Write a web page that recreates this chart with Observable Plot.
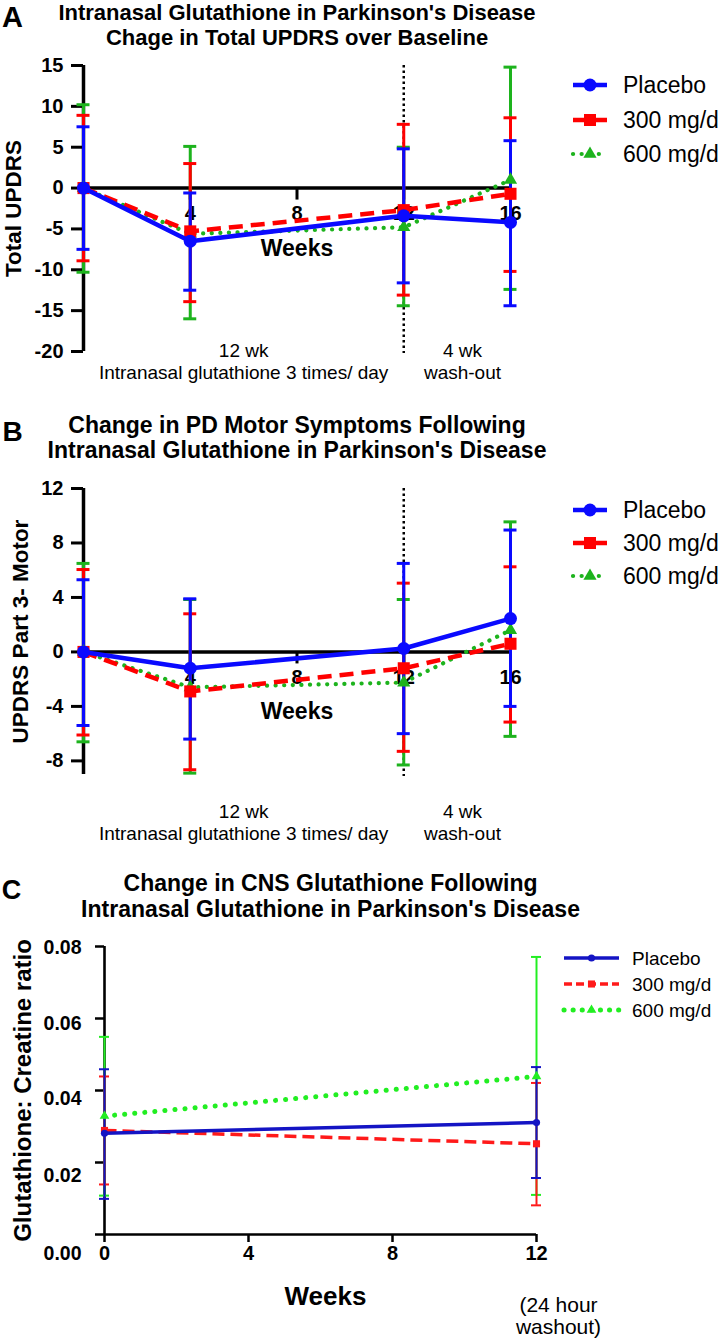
<!DOCTYPE html>
<html>
<head>
<meta charset="utf-8">
<script src="https://cdn.jsdelivr.net/npm/d3@7"></script>
<script src="https://cdn.jsdelivr.net/npm/@observablehq/plot@0.6"></script>
<style>
  html, body { margin: 0; padding: 0; background: #fff; }
  #page { position: relative; width: 718px; height: 1340px; overflow: hidden; background: #fff; }
  #page svg { position: absolute; left: 0; }
</style>
</head>
<body>
<div id="page"></div>
<script>
// ---------------- DATA ----------------
const groups = ["Placebo", "300 mg/d", "600 mg/d"];

// Panel A: change in total UPDRS (mean, upper and lower error-bar ends)
const weeksAB = [0, 4, 12, 16];
const placeboA    = [0, -6.5, -3.4, -4.2];
const placeboA_hi = [7.5, -0.6, 4.8, 5.8];
const placeboA_lo = [-7.5, -12.5, -11.6, -14.4];
const mg300A      = [0, -5.3, -2.7, -0.7];
const mg300A_hi   = [8.9, 3.0, 7.8, 8.6];
const mg300A_lo   = [-8.9, -13.9, -13.1, -10.2];
const mg600A      = [0, -5.6, -4.8, 1.0];
const mg600A_hi   = [10.2, 5.1, 5.0, 14.8];
const mg600A_lo   = [-10.3, -16.0, -14.4, -12.4];
const yTicksA = [15, 10, 5, 0, -5, -10, -15, -20];
const xTicksAB = [4, 8, 12, 16];

// Panel B: UPDRS part 3 motor
const placeboB    = [0, -1.2, 0.25, 2.45];
const placeboB_hi = [5.3, 3.9, 6.5, 8.95];
const placeboB_lo = [-5.4, -6.4, -6.0, -4.0];
const mg300B      = [0, -2.9, -1.2, 0.6];
const mg300B_hi   = [6.05, 2.8, 5.05, 6.25];
const mg300B_lo   = [-6.1, -8.65, -7.3, -5.15];
const mg600B      = [0, -2.6, -2.25, 1.6];
const mg600B_hi   = [6.5, 3.85, 3.85, 9.55];
const mg600B_lo   = [-6.6, -8.9, -8.3, -6.2];
const yTicksB = [12, 8, 4, 0, -4, -8];

// Panel C: glutathione : creatine ratio
const weeksC = [0, 12];
const placeboC    = [0.0281, 0.0311];
const placeboC_hi = [0.0459, 0.0465];
const placeboC_lo = [0.0099, 0.0157];
const mg300C      = [0.0289, 0.0252];
const mg300C_hi   = [0.0439, 0.0421];
const mg300C_lo   = [0.0139, 0.0081];
const mg600C      = [0.0329, 0.0439];
const mg600C_hi   = [0.0549, 0.0771];
const mg600C_lo   = [0.0108, 0.0110];
const yTicksC = [0, 0.02, 0.04, 0.06, 0.08];
const xTicksC = [0, 4, 8, 12];

// Text
const titleA = ["Intranasal Glutathione in Parkinson's Disease", "Chage in Total UPDRS over Baseline"];
const titleB = ["Change in PD Motor Symptoms Following", "Intranasal Glutathione in Parkinson's Disease"];
const titleC = ["Change in CNS Glutathione Following", "Intranasal Glutathione in Parkinson's Disease"];
const periods = [
  {x: 6, top: "12 wk", bottom: "Intranasal glutathione 3 times/ day"},
  {x: 14.2, top: "4 wk", bottom: "wash-out"}
];
const noteC = ["(24 hour", "washout)"];

// ---------------- STYLE ----------------
const FONT = "'Liberation Sans', Arial, Helvetica, sans-serif";
const styleAB = {
  "Placebo":  {color: "#0a0aff", dash: null, symbol: "circle", r: 6.5, width: 4.5, cap: "butt"},
  "300 mg/d": {color: "#ff0000", dash: "14,8", symbol: "square", r: 6.8, width: 4.5, cap: "butt"},
  "600 mg/d": {color: "#1db31d", dash: "0.1,8.5", symbol: "triangle", r: 4.9, width: 4.2, cap: "round"}
};
const styleC = {
  "Placebo":  {color: "#1414c4", dash: null, symbol: "circle", r: 3.6, width: 3.5, cap: "butt"},
  "300 mg/d": {color: "#ff1a1a", dash: "12,6", symbol: "square", r: 4, width: 3.5, cap: "butt"},
  "600 mg/d": {color: "#22ee22", dash: "0.1,10", symbol: "triangle", r: 3.6, width: 5, cap: "round"}
};

function rows(weeks, mean, hi, lo) {
  return weeks.map((w, i) => ({week: w, mean: mean[i], hi: hi[i], lo: lo[i]}));
}
const dataA = {
  "Placebo": rows(weeksAB, placeboA, placeboA_hi, placeboA_lo),
  "300 mg/d": rows(weeksAB, mg300A, mg300A_hi, mg300A_lo),
  "600 mg/d": rows(weeksAB, mg600A, mg600A_hi, mg600A_lo)
};
const dataB = {
  "Placebo": rows(weeksAB, placeboB, placeboB_hi, placeboB_lo),
  "300 mg/d": rows(weeksAB, mg300B, mg300B_hi, mg300B_lo),
  "600 mg/d": rows(weeksAB, mg600B, mg600B_hi, mg600B_lo)
};
const dataC = {
  "Placebo": rows(weeksC, placeboC, placeboC_hi, placeboC_lo),
  "300 mg/d": rows(weeksC, mg300C, mg300C_hi, mg300C_lo),
  "600 mg/d": rows(weeksC, mg600C, mg600C_hi, mg600C_lo)
};

function T(text, opts) {
  return Plot.text([text], {text: d => d, fill: "black", fontFamily: FONT,
    textAnchor: "middle", lineAnchor: "middle", ...opts});
}

function seriesMarks(data, styles, barW, capHalf) {
  const out = [];
  for (const g of ["600 mg/d", "300 mg/d", "Placebo"]) {
    const s = styles[g], d = data[g];
    out.push(Plot.ruleX(d, {x: "week", y1: "lo", y2: "hi", stroke: s.color, strokeWidth: barW}));
    out.push(Plot.ruleY(d, {y: "hi", x1: "week", x2: "week", insetLeft: -capHalf, insetRight: -capHalf, stroke: s.color, strokeWidth: barW}));
    out.push(Plot.ruleY(d, {y: "lo", x1: "week", x2: "week", insetLeft: -capHalf, insetRight: -capHalf, stroke: s.color, strokeWidth: barW}));
  }
  for (const g of ["600 mg/d", "300 mg/d", "Placebo"]) {
    const s = styles[g], d = data[g];
    out.push(Plot.line(d, {x: "week", y: "mean", stroke: s.color, strokeWidth: s.width,
      strokeDasharray: s.dash || undefined, strokeLinecap: s.cap}));
    out.push(Plot.dot(d, {x: "week", y: "mean", symbol: s.symbol, r: s.r, fill: s.color, stroke: "none"}));
  }
  return out;
}

// Panel A / B builder
function panelAB(cfg) {
  return Plot.plot({
    width: 718, height: cfg.height,
    marginTop: cfg.mt, marginBottom: cfg.mb, marginLeft: 83, marginRight: 208,
    x: {domain: [0, 16], axis: null},
    y: {domain: cfg.ydomain, axis: null},
    style: {background: "transparent", fontFamily: FONT, color: "black", overflow: "visible"},
    marks: [
      // period annotations
      Plot.text(periods, {x: "x", frameAnchor: "bottom", lineAnchor: "middle", dy: cfg.annDy, text: "top", fontSize: 19, fontFamily: FONT, fill: "black"}),
      Plot.text(periods, {x: "x", frameAnchor: "bottom", lineAnchor: "middle", dy: cfg.annDy + 22, text: "bottom", fontSize: 19, fontFamily: FONT, fill: "black"}),
      // titles
      T(cfg.letter, {frameAnchor: "top-left", dx: -71, dy: cfg.letterDy, fontSize: cfg.letterSize, fontWeight: "bold"}),
      T(cfg.title[0], {frameAnchor: "top", dy: cfg.t1, fontSize: cfg.tsize, fontWeight: "bold"}),
      T(cfg.title[1], {frameAnchor: "top", dy: cfg.t2, fontSize: cfg.tsize, fontWeight: "bold"}),
      T(cfg.ylabel, {frameAnchor: "left", dx: cfg.ylabDx, rotate: -90, fontSize: 22.5, fontWeight: "bold"}),
      // y axis
      Plot.ruleX([0], {strokeWidth: 3.5, stroke: "black"}),
      Plot.ruleY(cfg.yticks, {y: d => d, x1: 0, x2: 0, insetLeft: -12, strokeWidth: 3, stroke: "black"}),
      Plot.text(cfg.yticks, {frameAnchor: "left", y: d => d, dx: -20, textAnchor: "end", lineAnchor: "middle", text: d => String(d),
        fontSize: 20, fontWeight: "bold", fontFamily: FONT, fill: "black"}),
      // x axis on zero line
      Plot.ruleY([0], {strokeWidth: 3.5, stroke: "black"}),
      Plot.ruleX(xTicksAB, {x: d => d, y1: 0, y2: 0, insetBottom: -12, strokeWidth: 3, stroke: "black"}),
      Plot.text(xTicksAB, {x: d => d, y: 0, dy: 26, text: d => String(d), fontSize: 20, fontWeight: "bold", fontFamily: FONT, fill: "black"}),
      Plot.text(["Weeks"], {x: 8, y: 0, dy: cfg.weeksDy, text: d => d, fontSize: 23, fontWeight: "bold", fontFamily: FONT, fill: "black"}),
      // treatment end marker
      Plot.ruleX([12], {stroke: "black", strokeWidth: 2.5, strokeDasharray: "2.5,3", insetBottom: -2}),
      ...seriesMarks(cfg.data, styleAB, 3, 6.5)
    ]
  });
}

const page = document.getElementById("page");

const svgA = panelAB({
  height: 400, mt: 65, mb: 49, ydomain: [-20, 15], yticks: yTicksA, data: dataA,
  letter: "A", letterDy: -48, letterSize: 29, title: titleA, t1: -53, t2: -28, tsize: 22,
  ylabel: "Total UPDRS", ylabDx: -69.5, weeksDy: 61, annDy: -1
});
svgA.style.top = "0px";
page.appendChild(svgA);

const svgB = panelAB({
  height: 440, mt: 88, mb: 66, ydomain: [-9, 12], yticks: yTicksB, data: dataB,
  letter: "B", letterDy: -56, letterSize: 28, title: titleB, t1: -63, t2: -38, tsize: 23,
  ylabel: "UPDRS Part 3- Motor", ylabDx: -63, weeksDy: 60, annDy: 37
});
svgB.style.top = "400px";
page.appendChild(svgB);

// Panel C
const labelDriftC = [19.5, 13.3, 8.3, 5, 1];
const svgC = Plot.plot({
  width: 718, height: 500,
  marginTop: 106, marginBottom: 106, marginLeft: 104, marginRight: 182,
  x: {domain: [0, 12], axis: null},
  y: {domain: [0, 0.08], axis: null},
  style: {background: "transparent", fontFamily: FONT, color: "black", overflow: "visible"},
  marks: [
    T("C", {frameAnchor: "top-left", dx: -93, dy: -56, fontSize: 27, fontWeight: "bold"}),
    T(titleC[0], {frameAnchor: "top", dx: 10, dy: -63, fontSize: 23, fontWeight: "bold"}),
    T(titleC[1], {frameAnchor: "top", dx: 10, dy: -36.5, fontSize: 23, fontWeight: "bold"}),
    T("Glutathione: Creatine ratio", {frameAnchor: "left", dx: -81, rotate: -90, fontSize: 24, fontWeight: "bold"}),
    Plot.ruleX([0], {strokeWidth: 2.6, stroke: "black"}),
    Plot.ruleY([0], {strokeWidth: 2.6, stroke: "black"}),
    Plot.ruleY(yTicksC, {y: d => d, x1: 0, x2: 0, insetLeft: -9, strokeWidth: 2.5, stroke: "black"}),
    ...yTicksC.map((t, i) => Plot.text([t], {frameAnchor: "left", y: d => d, dx: -23, dy: labelDriftC[i],
      textAnchor: "end", lineAnchor: "middle", text: d => d.toFixed(2), fontSize: 19.5, fontWeight: "bold", fontFamily: FONT, fill: "black"})),
    Plot.ruleX(xTicksC, {x: d => d, y1: 0, y2: 0, insetBottom: -8, strokeWidth: 2.5, stroke: "black"}),
    Plot.text(xTicksC, {x: d => d, y: 0, dy: 19.5, text: d => String(d), fontSize: 20, fontWeight: "bold", fontFamily: FONT, fill: "black"}),
    T("Weeks", {frameAnchor: "bottom", dx: 5, dy: 62, fontSize: 26, fontWeight: "bold"}),
    T(noteC[0], {x: 12, y: 0, dx: 22, dy: 70.5, fontSize: 21}),
    T(noteC[1], {x: 12, y: 0, dx: 22, dy: 92.5, fontSize: 21}),
    ...seriesMarks(dataC, styleC, 2, 5)
  ]
});
svgC.style.top = "840px";
page.appendChild(svgC);

// ---------------- LEGENDS (overlay) ----------------
const overlay = d3.create("svg").attr("width", 718).attr("height", 1340)
  .style("top", "0px").style("pointer-events", "none");
function legend(styles, x0, x1, tx, ys, fontSize, lineW, dashMap, symSize) {
  groups.forEach((g, i) => {
    const s = styles[g], y = ys[i];
    const gg = overlay.append("g");
    gg.append("line").attr("x1", x0).attr("x2", x1).attr("y1", y).attr("y2", y)
      .attr("stroke", s.color).attr("stroke-width", g === "600 mg/d" ? lineW.dot : lineW.line)
      .attr("stroke-dasharray", dashMap[g]).attr("stroke-linecap", s.cap);
    const sym = {circle: d3.symbolCircle, square: d3.symbolSquare, triangle: d3.symbolTriangle}[s.symbol];
    gg.append("path").attr("d", d3.symbol(sym, Math.PI * symSize[g] * symSize[g])())
      .attr("transform", `translate(${(x0 + x1) / 2},${y})`).attr("fill", s.color);
    gg.append("text").attr("x", tx).attr("y", y).attr("dy", "0.35em").text(g)
      .attr("font-family", FONT).attr("font-size", fontSize).attr("fill", "black");
  });
}
legend(styleAB, 573, 607, 623, [85, 120, 154], 23, {line: 4.5, dot: 4.2},
  {"Placebo": null, "300 mg/d": "13,8", "600 mg/d": "0.1,8.5"}, {"Placebo": 6.5, "300 mg/d": 6.8, "600 mg/d": 4.9});
legend(styleAB, 573, 607, 623, [510, 543, 576], 23, {line: 4.5, dot: 4.2},
  {"Placebo": null, "300 mg/d": "13,8", "600 mg/d": "0.1,8.5"}, {"Placebo": 6.5, "300 mg/d": 6.8, "600 mg/d": 4.9});
legend(styleC, 564, 619, 632, [958, 984, 1010], 19, {line: 3.5, dot: 5},
  {"Placebo": null, "300 mg/d": "8,4", "600 mg/d": "0.1,9"}, {"Placebo": 3.6, "300 mg/d": 4, "600 mg/d": 3.6});
page.appendChild(overlay.node());
</script>
</body>
</html>
